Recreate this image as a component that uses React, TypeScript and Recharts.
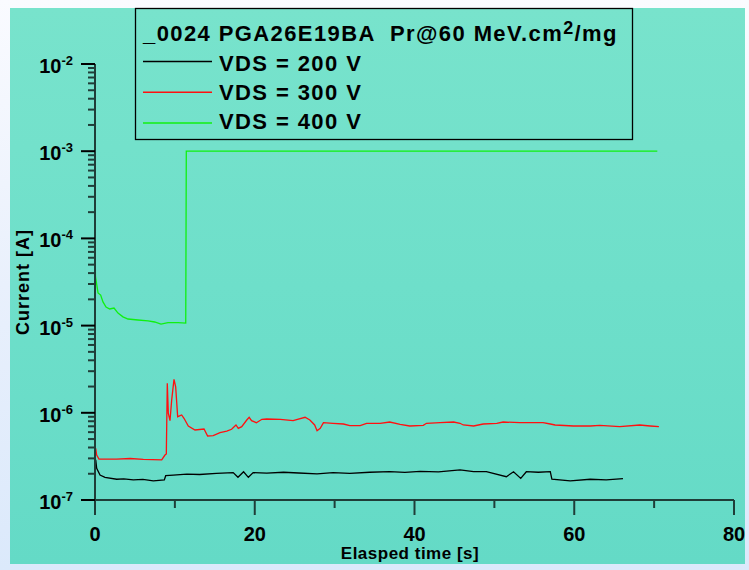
import React from 'react';
import { LineChart, Line, XAxis, YAxis } from 'recharts';

// ---- data (elapsed time [s], current [A]) ----
const vds200: { t: number; v: number }[] = [
  { t: 0.09, v: 2.88e-7 }, { t: 0.21, v: 2.31e-7 }, { t: 0.63, v: 1.93e-7 }, { t: 1.25, v: 1.82e-7 },
  { t: 2.72, v: 1.73e-7 }, { t: 3.6, v: 1.75e-7 }, { t: 4.8, v: 1.70e-7 }, { t: 6.0, v: 1.72e-7 },
  { t: 7.3, v: 1.66e-7 }, { t: 8.68, v: 1.70e-7 }, { t: 8.85, v: 1.90e-7 }, { t: 9.8, v: 1.93e-7 },
  { t: 11.5, v: 1.98e-7 }, { t: 13.1, v: 1.96e-7 }, { t: 15.2, v: 2.02e-7 }, { t: 17.3, v: 2.06e-7 },
  { t: 17.9, v: 1.82e-7 }, { t: 18.6, v: 2.11e-7 }, { t: 19.2, v: 1.82e-7 }, { t: 19.8, v: 2.06e-7 },
  { t: 21.5, v: 2.03e-7 }, { t: 23.6, v: 2.08e-7 }, { t: 25.5, v: 2.04e-7 }, { t: 27.8, v: 1.99e-7 },
  { t: 29.8, v: 2.06e-7 }, { t: 31.9, v: 2.02e-7 }, { t: 34.4, v: 2.08e-7 }, { t: 36.9, v: 2.11e-7 },
  { t: 38.8, v: 2.07e-7 }, { t: 40.7, v: 2.13e-7 }, { t: 43.0, v: 2.10e-7 }, { t: 45.7, v: 2.21e-7 },
  { t: 47.4, v: 2.12e-7 }, { t: 49.0, v: 2.11e-7 }, { t: 51.5, v: 1.85e-7 }, { t: 52.4, v: 2.11e-7 },
  { t: 53.3, v: 1.77e-7 }, { t: 54.0, v: 2.11e-7 }, { t: 55.5, v: 2.08e-7 }, { t: 57.0, v: 2.11e-7 },
  { t: 57.2, v: 1.74e-7 }, { t: 59.5, v: 1.66e-7 }, { t: 62.0, v: 1.73e-7 }, { t: 64.0, v: 1.70e-7 },
  { t: 66.1, v: 1.76e-7 },
];

const vds300: { t: number; v: number }[] = [
  { t: 0.09, v: 3.92e-7 }, { t: 0.21, v: 3.28e-7 }, { t: 0.5, v: 2.95e-7 }, { t: 2.72, v: 2.95e-7 },
  { t: 4.4, v: 2.99e-7 }, { t: 6.05, v: 2.93e-7 }, { t: 8.35, v: 2.88e-7 }, { t: 8.76, v: 3.28e-7 },
  { t: 8.93, v: 3.37e-7 }, { t: 9.05, v: 2.18e-6 }, { t: 9.18, v: 9.87e-7 }, { t: 9.39, v: 8.12e-7 },
  { t: 9.6, v: 1.40e-6 }, { t: 9.89, v: 2.42e-6 }, { t: 10.1, v: 1.99e-6 }, { t: 10.35, v: 9.02e-7 },
  { t: 10.85, v: 9.44e-7 }, { t: 11.14, v: 8.65e-7 }, { t: 11.68, v: 7.06e-7 }, { t: 12.52, v: 6.35e-7 },
  { t: 13.65, v: 6.52e-7 }, { t: 14.1, v: 5.42e-7 }, { t: 14.8, v: 5.48e-7 }, { t: 15.65, v: 5.91e-7 },
  { t: 16.5, v: 6.18e-7 }, { t: 17.1, v: 6.47e-7 }, { t: 17.65, v: 7.25e-7 }, { t: 17.94, v: 6.64e-7 },
  { t: 18.37, v: 6.93e-7 }, { t: 19.0, v: 8.27e-7 }, { t: 19.3, v: 8.88e-7 }, { t: 19.6, v: 8.12e-7 },
  { t: 20.2, v: 7.70e-7 }, { t: 20.9, v: 8.42e-7 }, { t: 21.5, v: 8.49e-7 }, { t: 23.2, v: 8.42e-7 },
  { t: 24.8, v: 8.12e-7 }, { t: 26.3, v: 8.88e-7 }, { t: 26.9, v: 8.27e-7 }, { t: 27.5, v: 7.25e-7 },
  { t: 27.8, v: 6.23e-7 }, { t: 28.2, v: 6.64e-7 }, { t: 28.6, v: 7.70e-7 }, { t: 29.8, v: 7.58e-7 },
  { t: 31.1, v: 7.44e-7 }, { t: 31.9, v: 7.11e-7 }, { t: 33.2, v: 7.11e-7 }, { t: 34.0, v: 7.58e-7 },
  { t: 35.7, v: 7.58e-7 }, { t: 36.9, v: 7.84e-7 }, { t: 38.2, v: 7.38e-7 }, { t: 39.4, v: 7.06e-7 },
  { t: 41.1, v: 7.19e-7 }, { t: 41.5, v: 7.58e-7 }, { t: 43.2, v: 7.70e-7 }, { t: 44.9, v: 7.84e-7 },
  { t: 45.7, v: 7.58e-7 }, { t: 46.1, v: 7.25e-7 }, { t: 47.4, v: 7.06e-7 }, { t: 48.6, v: 7.44e-7 },
  { t: 50.3, v: 7.58e-7 }, { t: 51.1, v: 7.84e-7 }, { t: 53.2, v: 7.70e-7 }, { t: 56.1, v: 7.70e-7 },
  { t: 57.0, v: 7.44e-7 }, { t: 57.6, v: 7.25e-7 }, { t: 59.9, v: 7.06e-7 }, { t: 62.0, v: 7.06e-7 },
  { t: 63.2, v: 7.19e-7 }, { t: 65.7, v: 6.93e-7 }, { t: 68.2, v: 7.25e-7 }, { t: 69.5, v: 7.06e-7 },
  { t: 70.6, v: 6.93e-7 },
];

const vds400: { t: number; v: number }[] = [
  { t: 0.02, v: 6.4e-5 }, { t: 0.06, v: 3.64e-5 }, { t: 0.38, v: 2.37e-5 }, { t: 0.71, v: 2.24e-5 },
  { t: 1.0, v: 1.87e-5 }, { t: 1.38, v: 1.63e-5 }, { t: 1.84, v: 1.55e-5 }, { t: 2.38, v: 1.59e-5 },
  { t: 2.88, v: 1.39e-5 }, { t: 3.5, v: 1.26e-5 }, { t: 4.13, v: 1.19e-5 }, { t: 5.38, v: 1.16e-5 },
  { t: 6.64, v: 1.13e-5 }, { t: 7.47, v: 1.10e-5 }, { t: 8.26, v: 1.04e-5 }, { t: 9.14, v: 1.08e-5 },
  { t: 10.4, v: 1.08e-5 }, { t: 11.36, v: 1.07e-5 }, { t: 11.43, v: 1.0e-3 }, { t: 70.4, v: 1.0e-3 },
];

const seriesNames = ['VDS = 200 V', 'VDS = 300 V', 'VDS = 400 V'];
const seriesColors = ['#000000', '#ff1010', '#10f010'];
const seriesData = [vds200, vds300, vds400];

const legendTitle = '_0024 PGA26E19BA  Pr@60 MeV.cm';
const legendTitleSup = '2';
const legendTitleEnd = '/mg';
const xTitle = 'Elasped time [s]';
const yTitle = 'Current [A]';

const xTicks = [0, 10, 20, 30, 40, 50, 60, 70, 80];
const xLabelTicks = [0, 20, 40, 60, 80];
const yDecades = [1e-7, 1e-6, 1e-5, 1e-4, 1e-3, 1e-2];
const yMinorFactors = [2, 3, 4, 5, 6, 7, 8, 9];
const yTicks = [
  ...yDecades,
  ...yDecades.slice(0, -1).flatMap((d) => yMinorFactors.map((f) => f * d)),
].sort((a, b) => a - b);

const FONT = '"Liberation Sans", Arial, Helvetica, sans-serif';
const AXIS = '#1f3d38';

const YTick = (props: any) => {
  const { x, y, payload } = props;
  const v = payload.value as number;
  const lg = Math.log10(v);
  const major = Math.abs(lg - Math.round(lg)) < 1e-6;
  if (major) {
    return (
      <g>
        <line x1={x - 14} x2={x} y1={y} y2={y} stroke="#000" strokeWidth={2} />
        <text x={x - 22} y={y + 9} textAnchor="end" fontFamily={FONT} fontWeight="bold" fontSize={20} fill="#000">
          10
          <tspan fontSize={13} dy={-8}>{String(Math.round(lg))}</tspan>
        </text>
      </g>
    );
  }
  return <line x1={x - 7} x2={x} y1={y} y2={y} stroke={AXIS} strokeWidth={2} />;
};

const XTick = (props: any) => {
  const { x, y, payload } = props;
  const v = payload.value as number;
  const major = xLabelTicks.includes(v);
  if (major) {
    return (
      <g>
        <line x1={x} x2={x} y1={y} y2={y + 15} stroke={AXIS} strokeWidth={2} />
        <text x={x} y={y + 41} textAnchor="middle" fontFamily={FONT} fontWeight="bold" fontSize={20} fill="#000">
          {String(v)}
        </text>
      </g>
    );
  }
  return <line x1={x} x2={x} y1={y} y2={y + 8} stroke={AXIS} strokeWidth={2} />;
};

export default function App() {
  return (
    <div style={{ position: 'absolute', left: 0, top: 0, width: 749, height: 570, background: 'linear-gradient(to bottom, #fafbff 0%, #e9f0fc 50%, #dbe9fb 100%)', overflow: 'hidden' }}>
      <div style={{ position: 'absolute', left: 10, top: 8, width: 735, height: 556, background: 'linear-gradient(to bottom, #78e3cc 0%, #6edfca 50%, #64dac6 100%)' }} />
      <div style={{ position: 'absolute', left: 0, top: 0 }}>
        <LineChart width={749} height={570} margin={{ top: 64, right: 15, bottom: 0, left: 10 }}>
          <XAxis
            dataKey="t"
            type="number"
            domain={[0, 80]}
            ticks={xTicks}
            interval={0}
            height={70}
            tickSize={0}
            tickMargin={0}
            tickLine={false}
            axisLine={{ stroke: AXIS, strokeWidth: 2 }}
            tick={<XTick />}
            allowDataOverflow
          />
          <YAxis
            type="number"
            scale="log"
            domain={[1e-7, 1e-2]}
            ticks={yTicks}
            interval={0}
            width={85}
            tickSize={0}
            tickMargin={0}
            tickLine={false}
            axisLine={{ stroke: AXIS, strokeWidth: 2 }}
            tick={<YTick />}
            allowDataOverflow
          />
          {seriesData.map((d, i) => (
            <Line
              key={seriesNames[i]}
              data={d}
              dataKey="v"
              name={seriesNames[i]}
              type="linear"
              stroke={seriesColors[i]}
              strokeWidth={1.3}
              dot={false}
              activeDot={false}
              isAnimationActive={false}
            />
          ))}
        </LineChart>
      </div>
      <svg width={749} height={570} style={{ position: 'absolute', left: 0, top: 0, pointerEvents: 'none' }}>
        <rect x={135.5} y={8.5} width={497} height={131} fill="none" stroke="#000" strokeWidth={1.3} />
        <text x={143} y={41} fontFamily={FONT} fontWeight="bold" fontSize={22} letterSpacing={1.4} fill="#000" style={{ whiteSpace: 'pre' }}>
          {legendTitle}
          <tspan fontSize={18} dy={-7}>{legendTitleSup}</tspan>
          <tspan dy={7}>{legendTitleEnd}</tspan>
        </text>
        {seriesNames.map((n, i) => (
          <g key={n}>
            <line x1={143} x2={212} y1={61.5 + i * 30.7} y2={61.5 + i * 30.7} stroke={seriesColors[i]} strokeWidth={1.5} />
            <text x={219} y={71 + i * 29.2} fontFamily={FONT} fontWeight="bold" fontSize={22} letterSpacing={1.4} fill="#000">
              {n}
            </text>
          </g>
        ))}
        <text x={410} y={559} textAnchor="middle" fontFamily={FONT} fontWeight="bold" fontSize={17} letterSpacing={0.5} fill="#000">
          {xTitle}
        </text>
        <text x={28.5} y={282} textAnchor="middle" transform="rotate(-90, 28.5, 282)" fontFamily={FONT} fontWeight="bold" fontSize={18} letterSpacing={1} fill="#000">
          {yTitle}
        </text>
      </svg>
    </div>
  );
}
